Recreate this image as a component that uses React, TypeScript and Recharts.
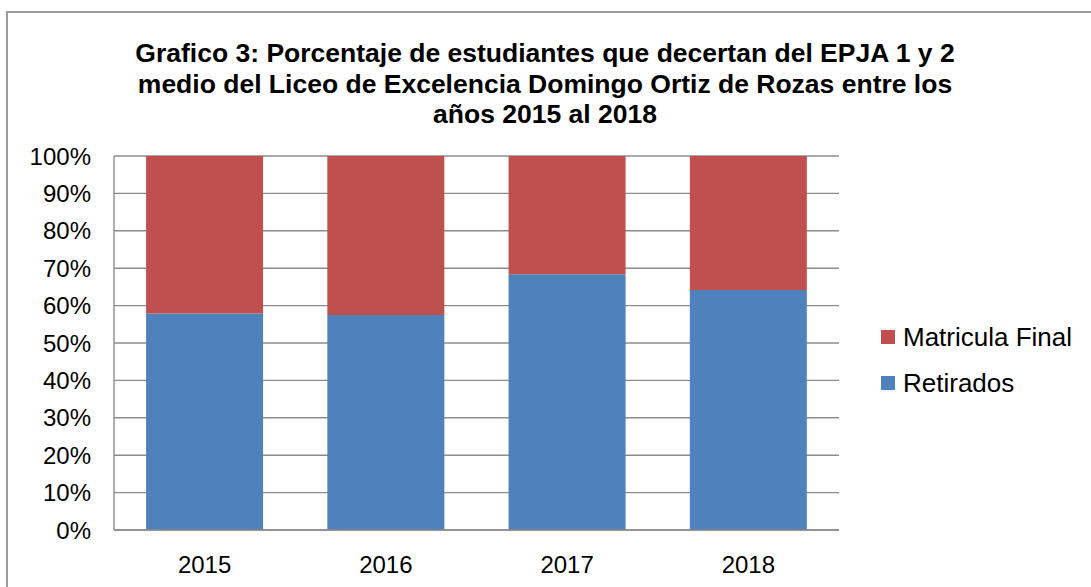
import { Bar, BarChart, CartesianGrid, XAxis, YAxis } from "recharts";

const years = ["2015", "2016", "2017", "2018"];
const retirados = [57.9, 57.5, 68.4, 64.2];
const matriculaFinal = [42.1, 42.5, 31.6, 35.8];
const yTicks = [0, 10, 20, 30, 40, 50, 60, 70, 80, 90, 100];

const data = years.map((year, i) => ({
  year,
  retirados: retirados[i],
  matricula: matriculaFinal[i],
}));

const FONT = "'Liberation Sans', Arial, sans-serif";

const legendItems = [
  { label: "Matricula Final", color: "#C0504D" },
  { label: "Retirados", color: "#4F81BD" },
];

function ChartLegend() {
  return (
    <div
      style={{
        position: "absolute",
        left: 881,
        top: 314,
        fontFamily: FONT,
        fontSize: 26,
        color: "#000",
      }}
    >
      {legendItems.map((item) => (
        <div
          key={item.label}
          style={{ display: "flex", alignItems: "center", height: 46 }}
        >
          <span
            style={{
              display: "inline-block",
              width: 14,
              height: 14,
              background: item.color,
              marginRight: 8,
            }}
          />
          {item.label}
        </div>
      ))}
    </div>
  );
}

export default function App() {
  return (
    <div
      style={{
        position: "absolute",
        left: 0,
        top: 0,
        width: 1091,
        height: 587,
        overflow: "hidden",
        background: "#fff",
      }}
    >
      <div
        style={{
          position: "absolute",
          left: 6,
          top: 11,
          width: 1120,
          height: 620,
          border: "2px solid #9c9c9c",
        }}
      />
      <div
        style={{
          position: "absolute",
          left: 0,
          top: 38,
          width: 1090,
          textAlign: "center",
          fontFamily: FONT,
          fontWeight: "bold",
          fontSize: 26.5,
          lineHeight: "30.5px",
          color: "#000",
        }}
      >
        Grafico 3: Porcentaje de estudiantes que decertan del EPJA 1 y 2
        <br />
        medio del Liceo de Excelencia Domingo Ortiz de Rozas entre los
        <br />
        años 2015 al 2018
      </div>
      <BarChart
        width={1091}
        height={587}
        data={data}
        margin={{ top: 156, right: 252, bottom: 17, left: 14 }}
        barCategoryGap="17.7%"
        style={{ position: "absolute", left: 0, top: 0 }}
      >
        <CartesianGrid vertical={false} stroke="#8c8c8c" strokeWidth={1.4} />
        <XAxis
          dataKey="year"
          height={40}
          tickLine={false}
          tickSize={6}
          tickMargin={20}
          axisLine={{ stroke: "#8c8c8c", strokeWidth: 1.4 }}
          tick={{ fill: "#000", fontSize: 24, fontFamily: FONT }}
        />
        <YAxis
          width={100}
          domain={[0, 100]}
          ticks={yTicks}
          interval={0}
          tickFormatter={(v: number) => `${v}%`}
          tickLine={false}
          tickSize={6}
          tickMargin={17}
          axisLine={{ stroke: "#8c8c8c", strokeWidth: 1.4 }}
          tick={{ fill: "#000", fontSize: 24, fontFamily: FONT }}
        />
        <Bar
          dataKey="retirados"
          name="Retirados"
          stackId="a"
          fill="#4F81BD"
          isAnimationActive={false}
        />
        <Bar
          dataKey="matricula"
          name="Matricula Final"
          stackId="a"
          fill="#C0504D"
          isAnimationActive={false}
        />
      </BarChart>
      <ChartLegend />
    </div>
  );
}
